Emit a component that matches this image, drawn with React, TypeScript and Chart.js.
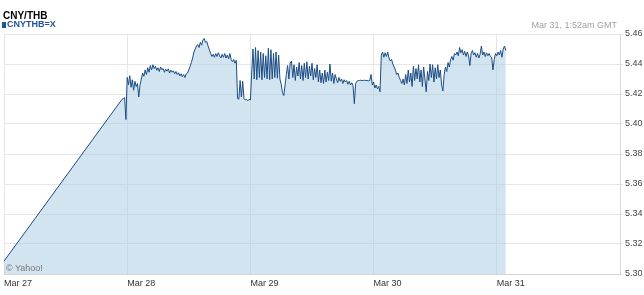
import React, { useEffect, useRef } from 'react';
import { Chart, registerables } from 'chart.js';

Chart.register(...registerables);

// ---- data ----
const dayLabels = ['Mar 27', 'Mar 28', 'Mar 29', 'Mar 30', 'Mar 31'];
const hoursPerDay = 24;
const axisEndHour = 120; // Apr 1 00:00
const yMin = 5.3;
const yMax = 5.46;
const yStep = 0.02;

// first quote (Mar 27 00:00) before the data gap
const rampStartHour = 0;
const rampStartValue = 5.3086;

// 15-minute quotes starting Mar 27 23:00
const seriesStartHour = 23;
const stepHours = 0.25;
const rateValues = [
  5.4165, 5.4170, 5.4175, 5.4030, 5.4311, 5.4262, 5.4322, 5.4245, 5.4295, 5.4225,
  5.4285, 5.4250, 5.4270, 5.4180, 5.4262, 5.4300, 5.4340, 5.4318, 5.4360, 5.4330,
  5.4375, 5.4345, 5.4390, 5.4360, 5.4395, 5.4370, 5.4385, 5.4358, 5.4375, 5.4350,
  5.4380, 5.4362, 5.4370, 5.4345, 5.4365, 5.4352, 5.4368, 5.4340, 5.4360, 5.4345,
  5.4355, 5.4335, 5.4350, 5.4330, 5.4342, 5.4320, 5.4335, 5.4315, 5.4330, 5.4310,
  5.4335, 5.4340, 5.4360, 5.4385, 5.4410, 5.4440, 5.4480, 5.4500, 5.4520, 5.4530,
  5.4510, 5.4545, 5.4525, 5.4560, 5.4570, 5.4545, 5.4550, 5.4520, 5.4495, 5.4470,
  5.4450, 5.4465, 5.4445, 5.4470, 5.4450, 5.4475, 5.4455, 5.4440, 5.4465, 5.4445,
  5.4470, 5.4440, 5.4460, 5.4435, 5.4470, 5.4430, 5.4415, 5.4430, 5.4405, 5.4425,
  5.4170, 5.4165, 5.4290, 5.4180, 5.4285, 5.4170, 5.4160, 5.4165, 5.4155, 5.4165,
  5.4160, 5.4340, 5.4500, 5.4300, 5.4510, 5.4295, 5.4490, 5.4310, 5.4480, 5.4295,
  5.4470, 5.4310, 5.4455, 5.4300, 5.4505, 5.4295, 5.4495, 5.4300, 5.4470, 5.4310,
  5.4480, 5.4305, 5.4460, 5.4300, 5.4265, 5.4210, 5.4190, 5.4260, 5.4330, 5.4390,
  5.4300, 5.4405, 5.4420, 5.4310, 5.4395, 5.4290, 5.4380, 5.4320, 5.4410, 5.4300,
  5.4390, 5.4290, 5.4405, 5.4310, 5.4415, 5.4300, 5.4385, 5.4320, 5.4405, 5.4295,
  5.4370, 5.4310, 5.4395, 5.4280, 5.4360, 5.4275, 5.4340, 5.4270, 5.4360, 5.4280,
  5.4345, 5.4290, 5.4400, 5.4285, 5.4340, 5.4270, 5.4330, 5.4300, 5.4275, 5.4310,
  5.4285, 5.4300, 5.4270, 5.4295, 5.4280, 5.4290, 5.4265, 5.4285, 5.4260, 5.4275,
  5.4255, 5.4135, 5.4270, 5.4285, 5.4290, 5.4290, 5.4292, 5.4290, 5.4290, 5.4292,
  5.4290, 5.4290, 5.4288, 5.4290, 5.4330, 5.4260, 5.4280, 5.4240, 5.4260, 5.4235,
  5.4250, 5.4215, 5.4460, 5.4480, 5.4445, 5.4475, 5.4450, 5.4480, 5.4440, 5.4420,
  5.4430, 5.4400, 5.4380, 5.4360, 5.4330, 5.4340, 5.4310, 5.4290, 5.4270, 5.4300,
  5.4260, 5.4330, 5.4270, 5.4360, 5.4280, 5.4340, 5.4250, 5.4385, 5.4290, 5.4370,
  5.4300, 5.4395, 5.4280, 5.4360, 5.4250, 5.4380, 5.4300, 5.4215, 5.4350, 5.4290,
  5.4400, 5.4310, 5.4395, 5.4280, 5.4375, 5.4300, 5.4395, 5.4310, 5.4360, 5.4260,
  5.4220, 5.4330, 5.4380, 5.4350, 5.4410, 5.4380, 5.4430, 5.4450, 5.4425, 5.4470,
  5.4460, 5.4480, 5.4455, 5.4510, 5.4475, 5.4495, 5.4460, 5.4485, 5.4450, 5.4480,
  5.4455, 5.4390, 5.4470, 5.4490, 5.4460, 5.4475, 5.4445, 5.4470, 5.4440, 5.4465,
  5.4520, 5.4460, 5.4480, 5.4450, 5.4475, 5.4455, 5.4470, 5.4450, 5.4445, 5.4360,
  5.4430, 5.4470, 5.4455, 5.4480, 5.4460, 5.4490, 5.4445, 5.4500, 5.4520, 5.4490,
];

const titleText = 'CNY/THB';
const symbolText = 'CNYTHB=X';
const timestampText = 'Mar 31, 1:52am GMT';
const creditText = '© Yahoo!';

const FONT = '"Liberation Sans", Arial, Helvetica, sans-serif';

export default function App() {
  const canvasRef = useRef<HTMLCanvasElement>(null);

  useEffect(() => {
    document.body.style.margin = '0';
    const points = [
      { x: rampStartHour, y: rampStartValue },
      ...rateValues.map((v, i) => ({ x: seriesStartHour + i * stepHours, y: v })),
    ];
    const chart = new Chart(canvasRef.current as HTMLCanvasElement, {
      type: 'line',
      data: {
        datasets: [
          {
            data: points,
            borderColor: '#1b4c84',
            borderWidth: 1,
            backgroundColor: 'rgba(168,202,228,0.5)',
            fill: 'start',
            pointRadius: 0,
            tension: 0,
          },
        ],
      },
      options: {
        responsive: false,
        animation: false,
        layout: { padding: { top: 34, left: 3, right: 0, bottom: 0 } },
        plugins: { legend: { display: false }, tooltip: { enabled: false } },
        scales: {
          x: {
            type: 'linear',
            min: 0,
            max: axisEndHour,
            afterFit: (s: any) => {
              s.height = 21;
            },
            grid: { color: '#e6e6e6', drawTicks: false },
            border: { display: true, color: '#d6d6d6' },
            ticks: {
              stepSize: hoursPerDay,
              autoSkip: false,
              maxRotation: 0,
              align: 'start',
              padding: 4,
              color: '#333333',
              font: { family: FONT, size: 9 },
              callback: (v: any) => {
                const n = Number(v);
                if (n % hoursPerDay !== 0) return '';
                return dayLabels[n / hoursPerDay] ?? '';
              },
            },
          },
          y: {
            position: 'right',
            min: yMin,
            max: yMax,
            afterFit: (s: any) => {
              s.width = 24;
            },
            grid: { color: '#e6e6e6', tickLength: 3 },
            border: { display: true, color: '#d6d6d6' },
            ticks: {
              stepSize: yStep,
              padding: 2,
              color: '#444444',
              font: { family: FONT, size: 9 },
              callback: (v: any) => Number(v).toFixed(2),
            },
          },
        },
      },
    });
    return () => chart.destroy();
  }, []);

  return (
    <div style={{ position: 'relative', width: 644, height: 295, background: '#fff', fontFamily: FONT }}>
      <canvas ref={canvasRef} width={644} height={295} style={{ display: 'block', position: 'absolute', left: 0, top: 0 }} />
      <div style={{ position: 'absolute', left: 3, top: 11, fontSize: 10, lineHeight: '10px', fontWeight: 'bold', color: '#000', whiteSpace: 'nowrap' }}>
        {titleText}
      </div>
      <div style={{ position: 'absolute', left: 2, top: 22, width: 4, height: 6, background: '#1f5496' }} />
      <div style={{ position: 'absolute', left: 7, top: 20, fontSize: 9, lineHeight: '9px', fontWeight: 'bold', color: '#1f5496', whiteSpace: 'nowrap' }}>
        {symbolText}
      </div>
      <div style={{ position: 'absolute', right: 27, top: 21, fontSize: 9, lineHeight: '9px', color: '#a0a0a0', whiteSpace: 'nowrap' }}>
        {timestampText}
      </div>
      <div style={{ position: 'absolute', left: 6, top: 264, fontSize: 9, lineHeight: '9px', color: '#777', whiteSpace: 'nowrap' }}>
        {creditText}
      </div>
    </div>
  );
}
